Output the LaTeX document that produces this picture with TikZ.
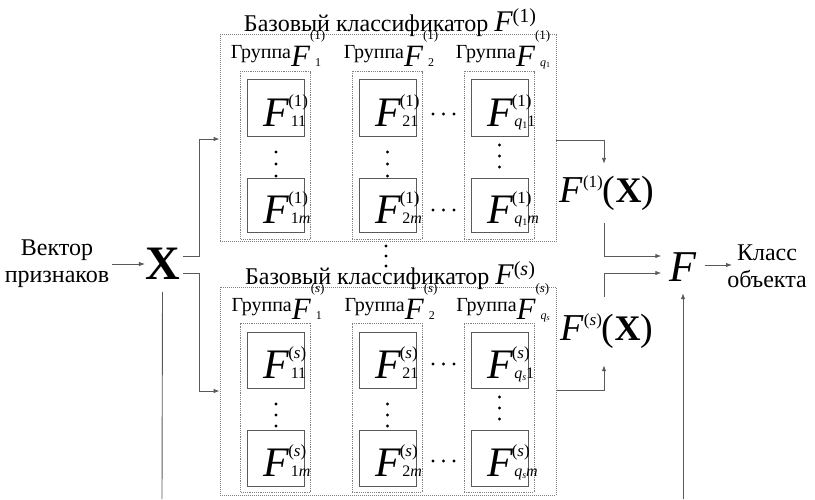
\documentclass[tikz,border=0pt]{standalone}
\usepackage{fontspec}
\setmainfont{Liberation Serif}
\usetikzlibrary{arrows.meta}
\definecolor{lc}{HTML}{5A5A5A}
\definecolor{dc}{HTML}{808080}
\newsavebox\ssA \newsavebox\ssB \newlength\ssW
\newcommand\fs[1]{\fontsize{#1}{#1}\selectfont}
\newcommand\SupSub[4]{\sbox\ssA{#3}\sbox\ssB{#4}%
  \ifdim\wd\ssA>\wd\ssB \setlength\ssW{\wd\ssA}\else\setlength\ssW{\wd\ssB}\fi%
  \rlap{\raisebox{#1}{\usebox\ssA}}\rlap{\raisebox{-#2}{\usebox\ssB}}\hspace{\ssW}}
\newcommand\Cell[2]{{\fs{42}\itshape F}\kern-1pt\SupSub{20pt}{0pt}{\fs{17}#1}{\kern2.5pt\fs{16}#2}}
\newcommand\Grp[2]{{\fs{20}Группа}\raisebox{-8pt}{{\fs{31}\itshape F}\SupSub{27pt}{0pt}{\fs{13}#1}{\kern5pt\fs{12}#2}}}
\newcommand\Ttl[1]{{\fs{24}Базовый классификатор }{\fs{30}\itshape F}\raisebox{9pt}{\fs{20}#1}}
\newcommand\FX[1]{{\fs{38}\itshape F}\raisebox{15pt}{\fs{17}#1}{\fs{38}(}{\fs{36}\bfseries X}{\fs{38})}}
\newcommand\qq[1]{{\itshape q}\raisebox{-2pt}{\fs{10}#1}}
\newcommand\qg[1]{{\itshape q}\raisebox{-1.5pt}{\fs{8}#1}}
\begin{document}
\begin{tikzpicture}[x=1pt,y=-1pt,
  obox/.style={draw=dc, line width=0.8pt, dash pattern=on 1pt off 1pt, inner sep=0, minimum width=336, minimum height=207},
  gbox/.style={draw=dc, line width=0.8pt, dash pattern=on 1.2pt off 1pt, inner sep=0, minimum width=70, minimum height=168},
  cell/.style={draw=lc, line width=0.9pt, inner sep=0, minimum width=57, minimum height=56, text height=37pt, text depth=0pt},
  ln/.style={draw=lc, line width=0.9pt},
  arr/.style={ln, -{Latex[length=6pt,width=4.5pt]}},
  dot/.style={fill=black},
  lbl/.style={anchor=base, inner sep=0},
  txt/.style={align=center, font=\fs{24}, execute at begin node=\setlength{\baselineskip}{27pt}}]
\useasboundingbox (0,0) rectangle (815,499);

% ---------- top base classifier ----------
\node[obox] (B1) at (388,138) {};
\node[lbl] (t1) at (390,31) {\Ttl{(1)}};
\node[gbox] (g11) at (275.5,155) {};
\node[gbox] (g12) at (387,155) {};
\node[gbox] (g1q) at (499,155) {};
\node[lbl] (l11) at (278,58) {\Grp{(1)}{1}};
\node[lbl] (l12) at (391,58) {\Grp{(1)}{2}};
\node[lbl] (l1q) at (503,58) {\Grp{(1)}{\qg{1}}};
\node[cell, minimum height=57] (c111) at (276,108) {\Cell{(1)}{11}};
\node[cell, minimum height=54] (c11m) at (276,205) {\Cell{(1)}{1\itshape m}};
\node[cell, minimum height=57] (c121) at (387.5,108) {\Cell{(1)}{21}};
\node[cell, minimum height=54] (c12m) at (387.5,205) {\Cell{(1)}{2\itshape m}};
\node[cell, minimum height=57] (c1q1) at (499.5,108) {\Cell{(1)}{\qq{1}1}};
\node[cell, minimum height=54] (c1qm) at (499.5,205) {\Cell{(1)}{\qq{1}\itshape m}};
\foreach \x/\y in {276/152,276/164,276/176,387.5/152,387.5/164,387.5/176,499.5/145,499.5/156,499.5/167,
                   433/114,443.5/114,454/114,433/210,443.5/210,454/210}
  \fill[dot] (\x,\y) circle (1.6);

% ---------- bottom base classifier ----------
\node[obox, minimum height=208] (B2) at (388,391) {};
\node[lbl] (t2) at (390,284) {\Ttl{(\textit{s})}};
\node[gbox, minimum height=169] (g21) at (275.5,407.5) {};
\node[gbox, minimum height=169] (g22) at (387,407.5) {};
\node[gbox, minimum height=169] (g2q) at (499,407.5) {};
\node[lbl] (l21) at (278,311) {\Grp{(\textit{s})}{1}};
\node[lbl] (l22) at (391,311) {\Grp{(\textit{s})}{2}};
\node[lbl] (l2q) at (503,311) {\Grp{(\textit{s})}{\qg{\textit{s}}}};
\node[cell] (c211) at (276,360) {\Cell{(\textit{s})}{11}};
\node[cell] (c21m) at (276,458) {\Cell{(\textit{s})}{1\itshape m}};
\node[cell] (c221) at (387.5,360) {\Cell{(\textit{s})}{21}};
\node[cell] (c22m) at (387.5,458) {\Cell{(\textit{s})}{2\itshape m}};
\node[cell] (c2q1) at (499.5,360) {\Cell{(\textit{s})}{\qq{\textit{s}}1}};
\node[cell] (c2qm) at (499.5,458) {\Cell{(\textit{s})}{\qq{\textit{s}}\itshape m}};
\foreach \x/\y in {276/404,276/415,276/426,387.5/404,387.5/415,387.5/426,499.5/397,499.5/408,499.5/419,
                   433/364,443.5/364,454/364,433/461,443.5/461,454/461}
  \fill[dot] (\x,\y) circle (1.6);

% dots between classifiers
\foreach \y in {246,256,266} \fill[dot] (386,\y) circle (1.6);

% ---------- input side ----------
\node[txt, inner sep=3pt] (vec) at (57,264) {Вектор\\признаков};
\node[inner sep=0, font=\fs{48}\bfseries] (X) at (162.5,264) {X};
\draw[arr] (vec.east) -- (X.west);
\coordinate (j1) at (199,139);
\coordinate (j2) at (199,391);
\coordinate (xb) at (162,499);
\draw[arr] ([xshift=3pt,yshift=8pt]X.east) -| (j1) -- (j1 -| B1.west);
\draw[arr] ([xshift=3pt,yshift=-9pt]X.east) -| (j2) -- (j2 -| B2.west);
\draw[ln] (X.south) ++(0,12) -- (xb);

% ---------- output side ----------
\node[inner sep=0, minimum height=59] (F1X) at (607,193.5) {\FX{(1)}};
\node[inner sep=0, minimum height=68] (FsX) at (607,331) {\FX{(\textit{s})}};
\node[inner sep=0, minimum width=43, minimum height=52, font=\fs{44}\itshape] (Fb) at (683,267) {F};
\node[txt, inner sep=0] (kl) at (767,266) {Класс\\объекта};
\coordinate (k1) at (604,140);
\coordinate (k2) at (604,256);
\coordinate (k3) at (604,390);
\coordinate (k4) at (604,273);
\coordinate (fb) at (683,499);
\coordinate (fe) at ([yshift=2pt]Fb.east);
\coordinate (ke) at (732,265);
\draw[arr] (k1 -| B1.east) -- (k1) -- (k1 |- F1X.north);
\draw[arr] (k1 |- F1X.south) -- (k2) -- (k2 -| Fb.west);
\draw[arr] (k3 -| B2.east) -- (k3) -- (k3 |- FsX.south);
\draw[arr] (k3 |- FsX.north) -- (k4) -- (k4 -| Fb.west);
\draw[arr] (fb) -- (Fb.south);
\draw[arr] (fe) -- (ke);
\end{tikzpicture}
\end{document}
